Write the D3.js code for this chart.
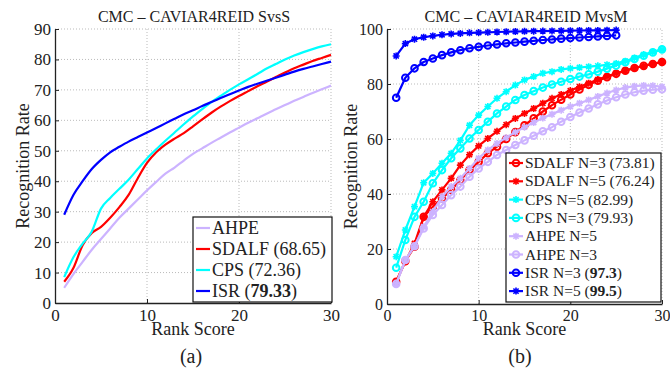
<!DOCTYPE html>
<html>
<head>
<meta charset="utf-8">
<script src="https://cdn.jsdelivr.net/npm/d3@7"></script>
<style>
  body { margin: 0; background: #fff; }
</style>
</head>
<body>
<div class="graph"></div>
<script>
// ranks 1..30 (left panel, single-shot vs single-shot)
var ranks = d3.range(1, 31);
var ranksISR = d3.range(1, 26);

var ahpeSS  = [5, 9.5, 13.5, 17.5, 21, 24.5, 28, 31, 34, 37, 39.8, 42.5, 44.5, 46.8, 49, 50.8, 52.6, 54.3, 56, 57.6, 59.2, 60.7, 62.2, 63.6, 65, 66.4, 67.7, 69, 70.2, 71.4];
var sdalfSS = [7, 11.5, 19, 23, 25, 28, 31.5, 35.5, 41, 46, 49.5, 52, 54, 55.8, 58, 60.3, 62.5, 64.5, 66.3, 68, 69.6, 71.2, 72.7, 74.2, 75.7, 77.1, 78.3, 79.5, 80.5, 81.5];
var cpsSS   = [8.5, 15, 19.5, 23.5, 31, 34.5, 37.5, 40.5, 44, 47.5, 50.5, 53.3, 56, 58.7, 61.3, 63.7, 66, 68, 70, 71.8, 73.5, 75.2, 77, 78.5, 80, 81.3, 82.4, 83.4, 84.3, 85];
var isrSS   = [29, 35.5, 40, 44, 47, 49.5, 51.3, 53, 54.5, 56, 57.5, 59, 60.5, 62, 63.3, 64.7, 66, 67.3, 68.6, 69.8, 71, 72, 73, 74, 75, 76, 76.9, 77.7, 78.5, 79.3];

// right panel, multi-shot vs multi-shot
var sdalfN3 = [8.1, 15.6, 20.8, 31.7, 35.4, 38.4, 41.5, 45, 48.7, 51.7, 54.8, 57.2, 60, 62.5, 65, 67.5, 70, 72.3, 74.3, 76.2, 78, 79.7, 81.2, 82.5, 83.7, 84.8, 85.8, 86.6, 87.3, 88];
var sdalfN5 = [8.1, 15.4, 22, 31.7, 37.2, 41.5, 45.7, 50.5, 54.3, 57.5, 60.2, 62.8, 65.2, 67.5, 69.3, 71.1, 73, 74.8, 76.2, 77.6, 79, 80.3, 81.6, 82.8, 83.9, 84.9, 85.8, 86.6, 87.3, 88];
var cpsN5   = [17.2, 26.9, 35.4, 44.1, 47.5, 51.2, 54.8, 59.5, 65, 68.7, 71.8, 74.8, 77.2, 79.6, 81.5, 82.7, 83.9, 84.5, 85.3, 85.7, 86, 86.3, 86.6, 87, 87.5, 88.3, 89.5, 90.7, 91.7, 92.6];
var cpsN3   = [13.2, 23.3, 31.7, 37.2, 43.9, 48.7, 53, 56.6, 60.2, 63.3, 66.3, 69.3, 71.8, 74.2, 76, 77.4, 78.7, 79.8, 80.8, 81.8, 82.7, 83.5, 84.5, 85.6, 86.7, 87.9, 89.1, 90.3, 91.5, 92.6];
var ahpeN5  = [7.3, 16, 21, 28.1, 33.6, 39, 42.7, 45.7, 49.3, 53, 56, 58.4, 60.5, 62.5, 64.3, 66, 67.6, 69, 70.5, 71.8, 73, 74.2, 75.5, 76.7, 77.8, 78.7, 79.2, 79.5, 79.4, 79];
var ahpeN3  = [7.3, 16, 21, 27.5, 32.4, 36, 39.6, 42.7, 46.3, 49.3, 51.7, 54.2, 56, 57.8, 59.5, 61.2, 62.8, 64.3, 66.3, 68, 69.6, 71.1, 72.6, 74, 75.2, 76.2, 77, 77.6, 77.9, 78.1];
var isrN3   = [75, 82.3, 85.7, 88, 89.3, 90.5, 91.5, 92.3, 93, 93.5, 94, 94.4, 94.8, 95.1, 95.4, 95.7, 96, 96.2, 96.5, 96.7, 96.9, 97.1, 97.3, 97.5, 97.7];
var isrN5   = [90.2, 94.7, 96.3, 97, 97.5, 97.9, 98.2, 98.4, 98.6, 98.7, 98.8, 98.9, 99, 99.1, 99.15, 99.2, 99.25, 99.3, 99.35, 99.4, 99.45, 99.5, 99.5, 99.55, 99.6];

var ticksX = [0, 10, 20, 30];
var ticksYa = d3.range(0, 91, 10);
var ticksYb = [0, 20, 40, 60, 80, 100];

var C = { blue: "#0000ff", red: "#ff0000", cyan: "#00ffff", lav: "#ccb3ff" };
var SERIF = "Liberation Serif";

var svg = d3.select(".graph").append("svg")
    .attr("width", 670).attr("height", 369)
    .attr("font-family", SERIF);

function label(x, y, fs, txt, rot) {
  var t = svg.append("text").attr("text-anchor", "middle").attr("font-size", fs)
    .attr("font-family", SERIF).attr("fill", "#222").text(txt);
  if (rot) t.attr("transform", "translate(" + x + "," + y + ") rotate(-90)");
  else t.attr("x", x).attr("y", y);
  return t;
}

function panel(o) {
  var x = d3.scaleLinear().domain([0, 30]).range([o.x0, o.x1]);
  var y = d3.scaleLinear().domain(o.ydom).range([o.y0, o.y1]);
  var g = svg.append("g");

  // dotted grid
  g.selectAll(".gx").data(o.xt.slice(1)).enter().append("line")
    .attr("x1", x).attr("x2", x).attr("y1", o.y0).attr("y2", o.y1)
    .attr("stroke", "#aaa").attr("stroke-width", 0.8).attr("stroke-dasharray", "1,2");
  g.selectAll(".gy").data(o.yt.slice(1)).enter().append("line")
    .attr("y1", y).attr("y2", y).attr("x1", o.x0).attr("x2", o.x1)
    .attr("stroke", "#aaa").attr("stroke-width", 0.8).attr("stroke-dasharray", "1,2");

  // axes
  var ax = g.append("g").attr("transform", "translate(0," + o.y0 + ")")
    .call(d3.axisBottom(x).tickValues(o.xt).tickSizeInner(-4).tickSizeOuter(0).tickPadding(6));
  var ay = g.append("g").attr("transform", "translate(" + o.x0 + ",0)")
    .call(d3.axisLeft(y).tickValues(o.yt).tickSizeInner(-4).tickSizeOuter(0).tickPadding(4));
  [ax, ay].forEach(function(a) {
    a.attr("font-family", SERIF).attr("font-size", o.tfs);
    a.select(".domain").attr("stroke", "#222").attr("stroke-width", 1.3);
    a.selectAll(".tick line").attr("stroke", "#222");
    a.selectAll("text").attr("fill", "#222");
  });

  label(o.tx, 22, 16, o.title);
  label(o.lx, (o.y0 + o.y1) / 2, 18, "Recognition Rate", true);
  label((o.x0 + o.x1) / 2, 335, 18, "Rank Score");
  label(o.cx, 363, 20, o.cap);

  return { x: x, y: y, g: g };
}

function marker(sel, type, color) {
  if (type === "o") {
    sel.append("circle").attr("r", 3.3).attr("fill", "none")
      .attr("stroke", color).attr("stroke-width", 2);
  } else if (type === "*") {
    sel.append("path").attr("d", "M-3.5,0L3.5,0M0,-3.5L0,3.5M-2.6,-2.6L2.6,2.6M-2.6,2.6L2.6,-2.6")
      .attr("fill", "none").attr("stroke", color).attr("stroke-width", 1.6);
  }
}

function series(p, xs, ys, color, type, curve) {
  var pts = xs.map(function(d, i) { return [d, ys[i]]; });
  var line = d3.line().x(function(d) { return p.x(d[0]); }).y(function(d) { return p.y(d[1]); })
    .curve(curve || d3.curveLinear);
  p.g.append("path").datum(pts).attr("d", line).attr("fill", "none")
    .attr("stroke", color).attr("stroke-width", 2.2).attr("stroke-linejoin", "round");
  if (type) {
    p.g.selectAll(null).data(pts).enter().append("g")
      .attr("transform", function(d) { return "translate(" + p.x(d[0]) + "," + p.y(d[1]) + ")"; })
      .each(function() { marker(d3.select(this), type, color); });
  }
}

function legend(box, items, fs, step) {
  var lg = svg.append("g");
  lg.append("rect").attr("x", box[0]).attr("y", box[1]).attr("width", box[2]).attr("height", box[3])
    .attr("fill", "#fff").attr("stroke", "#111").attr("stroke-width", 1.2);
  items.forEach(function(it, i) {
    var cy = box[1] + box[4] + i * step;
    lg.append("line").attr("x1", box[0] + 3).attr("x2", box[0] + 17).attr("y1", cy).attr("y2", cy)
      .attr("stroke", it.color).attr("stroke-width", 2.2);
    if (it.type) marker(lg.append("g").attr("transform", "translate(" + (box[0] + 10) + "," + cy + ")"), it.type, it.color);
    var t = lg.append("text").attr("x", box[0] + 19).attr("y", cy + fs * 0.33)
      .attr("font-size", fs).attr("font-family", SERIF).attr("fill", "#222");
    t.append("tspan").text(it.label);
    if (it.bold) {
      t.append("tspan").text(" (");
      t.append("tspan").attr("font-weight", "bold").text(it.bold);
      t.append("tspan").text(")");
    }
  });
}

// (a) SvsS
var pa = panel({ x0: 55, x1: 331, y0: 303, y1: 29, ydom: [0, 90], xt: ticksX, yt: ticksYa, tfs: 17,
  title: "CMC \u2013 CAVIAR4REID SvsS", tx: 194, lx: 29, cx: 191, cap: "(a)" });
series(pa, ranks, ahpeSS, C.lav, null, d3.curveMonotoneX);
series(pa, ranks, sdalfSS, C.red, null, d3.curveMonotoneX);
series(pa, ranks, cpsSS, C.cyan, null, d3.curveMonotoneX);
series(pa, ranks, isrSS, C.blue, null, d3.curveMonotoneX);
legend([193, 217, 139, 85, 11], [
  { label: "AHPE", color: C.lav },
  { label: "SDALF (68.65)", color: C.red },
  { label: "CPS (72.36)", color: C.cyan },
  { label: "ISR", bold: "79.33", color: C.blue }
], 18, 21);

// (b) MvsM
var pb = panel({ x0: 387, x1: 662, y0: 304, y1: 29, ydom: [0, 100], xt: ticksX, yt: ticksYb, tfs: 16,
  title: "CMC \u2013 CAVIAR4REID MvsM", tx: 526, lx: 357, cx: 520, cap: "(b)" });
series(pb, ranks, sdalfN3, C.red, "o");
series(pb, ranks, sdalfN5, C.red, "*");
series(pb, ranks, cpsN5, C.cyan, "*");
series(pb, ranks, cpsN3, C.cyan, "o");
series(pb, ranks, ahpeN5, C.lav, "*");
series(pb, ranks, ahpeN3, C.lav, "o");
series(pb, ranksISR, isrN3, C.blue, "o");
series(pb, ranksISR, isrN5, C.blue, "*");
legend([506, 153, 155, 149, 10], [
  { label: "SDALF N=3 (73.81)", color: C.red, type: "o" },
  { label: "SDALF N=5 (76.24)", color: C.red, type: "*" },
  { label: "CPS N=5 (82.99)", color: C.cyan, type: "*" },
  { label: "CPS N=3 (79.93)", color: C.cyan, type: "o" },
  { label: "AHPE N=5", color: C.lav, type: "*" },
  { label: "AHPE N=3", color: C.lav, type: "o" },
  { label: "ISR N=3", bold: "97.3", color: C.blue, type: "o" },
  { label: "ISR N=5", bold: "99.5", color: C.blue, type: "*" }
], 15.5, 18.3);
</script>
</body>
</html>
